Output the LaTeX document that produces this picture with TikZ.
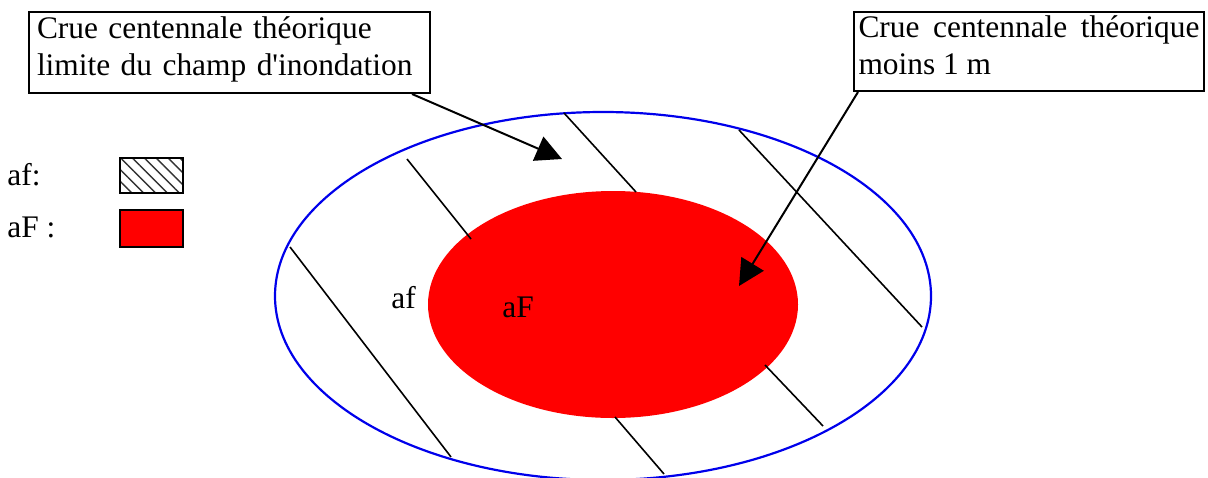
\documentclass[tikz,border=0pt]{standalone}
\usepackage{fontspec}
\setmainfont{Liberation Serif}[Ligatures=TeXOff]
\usetikzlibrary{arrows.meta, patterns.meta, calc}
\definecolor{floodred}{RGB}{255, 0, 0}
\definecolor{floodblue}{RGB}{0, 0, 235}
\tikzset{
    callout/.style={
        rectangle,
        draw=black,
        fill=white,
        line width=1pt,
        anchor=north west,
        inner xsep=4pt,
        inner ysep=0pt
    },
    lbl/.style={
        anchor=base west,
        inner sep=0pt
    },
    hatchline/.style={
        line width=0.8pt
    },
    floodarrow/.style={
        -{Triangle[length=13pt, width=13pt]},
        line width=1pt
    },
    legendbox/.style={
        draw=black,
        line width=1pt
    }
}

\begin{document}
\begin{tikzpicture}[x=0.5pt, y=-0.5pt, every node/.style={font=\fontsize{15.7}{18.5}\selectfont}]
    \useasboundingbox (0,0) rectangle (1208,477);
    % flood zones
    \draw[floodblue, line width=1.1pt] (603,296) ellipse [x radius=328, y radius=184];
    \fill[floodred] (613,304.5) ellipse [x radius=185, y radius=113.5];
    % hatching of zone af
    \draw[hatchline] (290,247) -- (451,457);
    \draw[hatchline] (407,159) -- (471,239);
    \draw[hatchline] (564,113) -- (636,192);
    \draw[hatchline] (739,130) -- (922,327);
    \draw[hatchline] (765,365) -- (823,426);
    \draw[hatchline] (615,417) -- (664,474);
    % legend
    \node[lbl] (keyaf) at (7,185) {af:};
    \node[lbl] (keyaF) at (7,237) {aF :};
    \draw[legendbox, pattern={Lines[angle=-45, distance=4.2pt, line width=0.7pt]}, pattern color=black!80] (120,158) rectangle (183,193);
    \draw[legendbox, fill=floodred] (120,210) rectangle (183,247);
    % zone labels
    \node[lbl] (zoneaf) at (391,308) {af};
    \node[lbl] (zoneaF) at (502,317) {aF};
    % callouts
    \coordinate (tip1) at (562,159);
    \coordinate (tip2) at (739,286);
    \node[callout, text width=192.5pt, minimum width=200.5pt, minimum height=40.5pt, align=left] (lbl1) at (28,11)
        {Crue centennale théorique\\limite du champ d'inondation\rule[-6pt]{0pt}{0pt}};
    \node[callout, text width=170.5pt, inner xsep=2.25pt, minimum height=39.5pt, align=justify] (lbl2) at (853,11)
        {Crue centennale théorique moins 1 m\rule[-6pt]{0pt}{0pt}};
    \draw[floodarrow] ($(lbl1.south east)+(-19,0)$) -- (tip1);
    \draw[floodarrow] ($(lbl2.south west)+(5,0)$) -- (tip2);
\end{tikzpicture}
\end{document}
